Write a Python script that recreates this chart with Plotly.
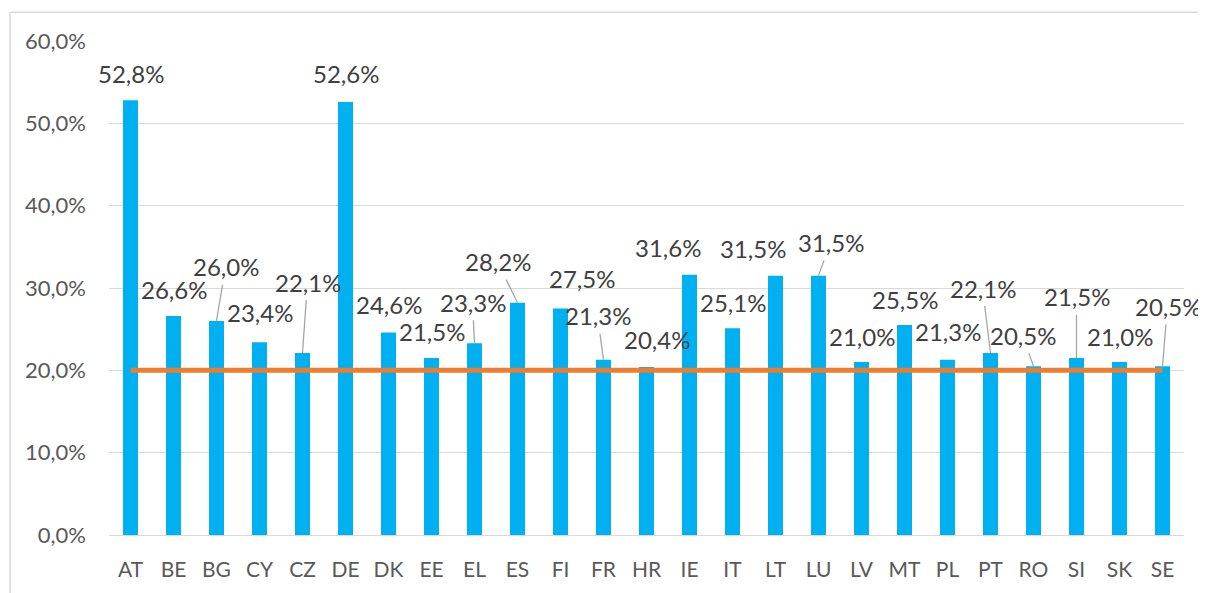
import plotly.graph_objects as go

# ---- data ----
countries = ["AT", "BE", "BG", "CY", "CZ", "DE", "DK", "EE", "EL", "ES", "FI", "FR", "HR",
             "IE", "IT", "LT", "LU", "LV", "MT", "PL", "PT", "RO", "SI", "SK", "SE"]
shares = [52.8, 26.6, 26.0, 23.4, 22.1, 52.6, 24.6, 21.5, 23.3, 28.2, 27.5, 21.3, 20.4,
          31.6, 25.1, 31.5, 31.5, 21.0, 25.5, 21.3, 22.1, 20.5, 21.5, 21.0, 20.5]
target = 20.0

# ---- label placement (pixel offsets of label centre from bar top) ----
label_dx = [0, 0, 9, 0, 5, 0, 0, 0, -2, -20, 21, -6, 10,
            -22, 0, -23, 12, 0, 0, 0, -8, -11, 0, 0, 5]
label_dy = [-27, -26, -54, -30, -71, -28, -28, -26, -41, -41, -30, -44, -28,
            -27, -26, -27, -33, -26, -26, -28, -65, -31, -61, -26, -60]
leader = [False, False, True, False, True, False, False, False, True, True, False, True, False,
          False, False, False, True, False, False, False, True, True, True, False, True]

BLUE = "#00B0F0"
ORANGE = "#ED7D31"
GRID = "#D9D9D9"
FONT = "Lato"

fig = go.Figure()
fig.add_bar(x=countries, y=[v / 100 for v in shares], marker_color=BLUE,
            marker_line_width=0, width=0.35, showlegend=False, hoverinfo="skip")
fig.add_scatter(x=countries, y=[target / 100] * len(countries), mode="lines",
                line=dict(color=ORANGE, width=5), showlegend=False, hoverinfo="skip")

for c, v, dx, dy, ld in zip(countries, shares, label_dx, label_dy, leader):
    fig.add_annotation(
        x=c, y=v / 100, text=f"{v:.1f}%".replace(".", ","),
        showarrow=True, ax=dx, ay=dy, axref="pixel", ayref="pixel",
        arrowhead=0, arrowwidth=1.3 if ld else 0.1,
        arrowcolor="#A6A6A6" if ld else "rgba(0,0,0,0)",
        standoff=0, startstandoff=2,
        font=dict(family=FONT, size=24, color="#404040"),
    )

# page has an 8px body margin; figure is sized/offset to compensate
OFF = 8
W, H = 1206 - OFF, 593 - OFF
L, R, T, B = 109 - OFF, 22, 41 - OFF, 54
pw, ph = W - L - R, H - T - B

def px_x(p):
    return (p - OFF - L) / pw

def px_y(p):
    return (H - B - (p - OFF)) / ph

# chart-area frame: only its top and left edges fall inside the picture
fig.add_shape(type="line", xref="paper", yref="paper",
              x0=px_x(10), x1=px_x(1300), y0=px_y(12), y1=px_y(12),
              line=dict(color=GRID, width=1.5), layer="below")
fig.add_shape(type="line", xref="paper", yref="paper",
              x0=px_x(10), x1=px_x(10), y0=px_y(12), y1=px_y(700),
              line=dict(color=GRID, width=1.5), layer="below")

fig.update_layout(
    width=W, height=H,
    margin=dict(l=L, r=R, t=T, b=B),
    paper_bgcolor="white", plot_bgcolor="white",
    separators=", ",
    bargap=0.65,
    font=dict(family=FONT, color="#595959"),
)
fig.update_yaxes(range=[0, 0.6], autorange=False, dtick=0.1, tickformat=".1%", showgrid=True,
                 gridcolor=GRID, gridwidth=1.3, zeroline=True, zerolinecolor=GRID,
                 zerolinewidth=1.3, showline=False,
                 ticks="", ticklabelstandoff=22,
                 tickfont=dict(family=FONT, size=22, color="#595959"))
fig.update_xaxes(range=[-0.5, len(countries) - 0.5], autorange=False,
                 showgrid=False, showline=False, zeroline=False, ticks="",
                 ticklabelstandoff=20,
                 tickfont=dict(family=FONT, size=21, color="#595959"))

fig.write_html("out.html")
